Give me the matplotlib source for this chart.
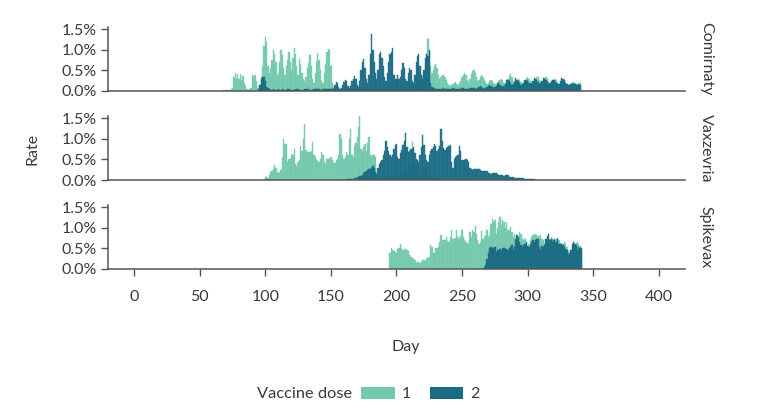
import matplotlib
matplotlib.use("Agg")
import matplotlib.pyplot as plt
import numpy as np
from matplotlib.patches import Patch
from matplotlib.ticker import FuncFormatter

plt.rcParams['font.family'] = ['Lato', 'DejaVu Sans']

# daily rates in hundredths of a percent, each series starts on the given day
vaccines = ["Comirnaty", "Vaxzevria", "Spikevax"]

comirnaty_d1_start = 68
comirnaty_d1 = [
    2, 2, 3, 3, 2, 3, 5,
    8, 35, 44, 30, 42, 30, 42,
    28, 36, 20, 12, 5, 3, 4,
    8, 38, 34, 40, 25, 8, 4,
    15, 35, 60, 110, 132, 120, 60,
    45, 55, 75, 100, 90, 70, 40,
    45, 70, 99, 88, 55, 40, 60,
    76, 95, 70, 50, 80, 106, 90,
    60, 40, 78, 65, 45, 30, 25,
    35, 55, 68, 87, 60, 30, 20,
    45, 70, 92, 75, 50, 25, 20,
    45, 65, 95, 103, 100, 60, 20,
    8, 6, 5, 6, 7, 5, 4,
    5, 6, 7, 6, 5, 4, 4,
    5, 6, 6, 7, 5, 4, 5,
    6, 7, 8, 7, 6, 5, 5,
    6, 8, 9, 8, 7, 6, 6,
    7, 9, 10, 9, 8, 6, 7,
    8, 10, 11, 10, 8, 7, 8,
    9, 11, 12, 11, 9, 8, 9,
    10, 12, 14, 12, 10, 9, 12,
    12, 15, 20, 25, 30, 35, 45,
    60, 90, 126, 95, 60, 45, 50,
    60, 67, 55, 40, 30, 35, 38,
    39, 35, 28, 20, 15, 12, 15,
    18, 20, 22, 18, 15, 20, 25,
    35, 40, 44, 38, 28, 22, 30,
    42, 48, 52, 45, 35, 25, 28,
    35, 39, 35, 28, 22, 18, 20,
    25, 27, 25, 20, 16, 14, 18,
    25, 28, 30, 26, 20, 16, 22,
    30, 36, 41, 35, 25, 20, 22,
    28, 30, 28, 22, 18, 16, 24,
    30, 33, 30, 25, 20, 18, 25,
    30, 35, 33, 28, 22, 20, 25,
    31, 33, 30, 24, 18, 18, 22,
    28, 30, 27, 22, 18, 16, 20,
    25, 26, 22, 18, 15, 14, 18,
    20, 22, 19, 17, 15, 18, 19,
]

comirnaty_d2_start = 95
comirnaty_d2 = [
    5, 15, 30, 35, 33, 25, 10,
    8, 5, 3, 3, 4, 3, 2,
    3, 4, 3, 3, 4, 2, 2,
    3, 4, 4, 3, 3, 2, 3,
    4, 5, 4, 3, 3, 2, 3,
    4, 5, 5, 4, 3, 3, 3,
    4, 5, 6, 5, 4, 3, 3,
    5, 6, 6, 5, 4, 4, 4,
    5, 8, 15, 23, 20, 10, 6,
    8, 15, 22, 28, 25, 12, 8,
    12, 25, 30, 36, 30, 15, 10,
    25, 50, 70, 79, 55, 30, 20,
    40, 90, 140, 100, 70, 45, 30,
    50, 91, 94, 80, 60, 35, 25,
    45, 70, 90, 95, 106, 40, 30,
    30, 40, 30, 35, 50, 68, 55,
    30, 25, 45, 55, 50, 25, 20,
    40, 70, 85, 91, 60, 40, 30,
    50, 80, 91, 85, 99, 20, 10,
    8, 7, 6, 5, 5, 4, 5,
    6, 7, 6, 5, 5, 4, 5,
    6, 7, 6, 5, 5, 4, 5,
    6, 7, 7, 6, 5, 5, 6,
    7, 8, 8, 7, 6, 6, 8,
    10, 12, 10, 8, 6, 8, 10,
    12, 15, 12, 10, 8, 10, 12,
    19, 20, 15, 12, 10, 12, 18,
    28, 28, 25, 20, 15, 18, 22,
    31, 28, 25, 20, 15, 18, 20,
    26, 28, 25, 20, 16, 20, 24,
    31, 30, 26, 22, 18, 20, 25,
    32, 30, 28, 22, 18, 20, 24,
    28, 26, 22, 20, 16, 18, 25,
    31, 30, 26, 20, 16, 15, 15,
    18, 20, 18, 16, 14, 15, 17,
    15,
]

vaxzevria_d1_start = 100
vaxzevria_d1 = [
    7, 8, 6, 12, 20, 22, 28,
    37, 30, 18, 20, 18, 24, 55,
    100, 88, 88, 44, 50, 52, 64,
    62, 76, 40, 35, 45, 48, 84,
    70, 100, 136, 72, 68, 68, 68,
    70, 92, 60, 56, 48, 46, 44,
    50, 68, 60, 45, 40, 52, 52,
    50, 56, 48, 44, 42, 48, 52,
    60, 112, 100, 60, 50, 56, 68,
    62, 100, 124, 60, 56, 84, 90,
    104, 130, 156, 76, 70, 80, 88,
    70, 90, 106, 60, 58, 61, 60,
    55, 15, 8, 6, 8, 10, 10,
    8, 8, 10, 10, 8, 8, 8,
    10, 10, 10, 8, 8, 10, 12,
    10, 12, 15, 14, 12, 15, 40,
    93, 75, 40, 30, 20, 15, 12,
    12, 10, 30, 25, 12, 10, 8,
    8, 6, 6, 5, 5, 4, 4,
]

vaxzevria_d2_start = 160
vaxzevria_d2 = [
    1, 1, 1, 2, 2, 3, 3,
    3, 4, 5, 7, 8, 9, 10,
    13, 16, 20, 23, 24, 27, 27,
    30, 35, 30, 20, 15, 30, 38,
    45, 48, 60, 70, 94, 80, 70,
    60, 56, 62, 76, 85, 88, 55,
    50, 65, 72, 85, 96, 115, 80,
    68, 70, 76, 76, 80, 65, 52,
    48, 44, 60, 80, 110, 85, 62,
    48, 45, 60, 70, 76, 80, 88,
    84, 70, 75, 84, 124, 95, 77,
    72, 77, 80, 84, 85, 45, 30,
    50, 56, 58, 60, 84, 70, 48,
    48, 48, 50, 48, 45, 30, 26,
    25, 27, 27, 27, 28, 27, 24,
    23, 22, 22, 23, 23, 18, 17,
    15, 17, 17, 17, 16, 15, 12,
    11, 11, 11, 10, 12, 12, 11,
    8, 7, 7, 7, 6, 6, 5,
    5, 5, 4, 4, 4, 3, 3,
    3, 3, 2, 2, 2, 2, 1,
]

spikevax_d1_start = 195
spikevax_d1 = [
    40, 50, 46, 44, 42, 40, 48,
    52, 62, 50, 46, 48, 48, 46,
    44, 34, 30, 28, 25, 22, 15,
    18, 17, 14, 18, 23, 22, 20,
    28, 26, 30, 58, 54, 40, 38,
    50, 52, 54, 66, 82, 70, 70,
    70, 78, 68, 66, 78, 94, 72,
    74, 76, 94, 78, 74, 80, 94,
    78, 70, 66, 62, 64, 90, 78,
    94, 90, 104, 86, 70, 62, 66,
    93, 74, 78, 82, 94, 78, 84,
    110, 123, 115, 120, 86, 100, 115,
    127, 107, 120, 115, 100, 115, 94,
    96, 102, 90, 78, 86, 70, 64,
    66, 90, 86, 72, 70, 74, 66,
    54, 62, 70, 78, 82, 86, 84,
    83, 80, 78, 82, 74, 70, 62,
    64, 66, 68, 72, 78, 74, 72,
    74, 74, 76, 70, 64, 62, 62,
    66, 60, 54, 42, 38, 45, 55,
    66, 62, 63, 66, 60, 56, 50,
]

spikevax_d2_start = 267
spikevax_d2 = [
    5, 10, 25, 38, 50, 54, 50,
    50, 54, 42, 46, 46, 48, 44,
    50, 50, 48, 48, 46, 50, 54,
    58, 46, 54, 72, 82, 78, 66,
    58, 54, 58, 62, 66, 56, 54,
    58, 66, 70, 66, 70, 72, 72,
    54, 46, 56, 54, 58, 74, 80,
    86, 70, 74, 66, 70, 66, 66,
    72, 62, 62, 60, 58, 54, 48,
    46, 34, 40, 46, 62, 66, 62,
    58, 46, 54, 50, 50,
]

series = {
    "Comirnaty": [(comirnaty_d1_start, comirnaty_d1), (comirnaty_d2_start, comirnaty_d2)],
    "Vaxzevria": [(vaxzevria_d1_start, vaxzevria_d1), (vaxzevria_d2_start, vaxzevria_d2)],
    "Spikevax": [(spikevax_d1_start, spikevax_d1), (spikevax_d2_start, spikevax_d2)],
}

dose_labels = ["1", "2"]
colors = ["#72c9ae", "#1a6b84"]
txt = "#3a3a3a"
axcol = "#555555"

W, H = 775, 417
fig = plt.figure(figsize=(W / 100, H / 100), dpi=100)

left_px, right_px = 108, 685
panels_px = [(27, 91), (116, 180), (205, 269)]

for i, name in enumerate(vaccines):
    top, bot = panels_px[i]
    ax = fig.add_axes([left_px / W, 1 - bot / H, (right_px - left_px) / W, (bot - top) / H])
    for j, (start, vals) in enumerate(series[name]):
        days = np.arange(start, start + len(vals))
        ax.bar(days, np.array(vals) / 100, width=1.0, color=colors[j],
               edgecolor=colors[j], linewidth=0.3, alpha=0.92)
    ax.set_xlim(-20, 420)
    ax.set_ylim(0, 1.56)
    ax.set_yticks([0, 0.5, 1.0, 1.5])
    ax.yaxis.set_major_formatter(FuncFormatter(lambda v, p: f"{v:.1f}%"))
    ax.set_xticks(range(0, 401, 50))
    for s in ["top", "right"]:
        ax.spines[s].set_visible(False)
    for s in ["left", "bottom"]:
        ax.spines[s].set_color(axcol)
        ax.spines[s].set_linewidth(1.1)
    ax.tick_params(axis="y", length=5, width=1, color=axcol, labelsize=11.5,
                   labelcolor=txt, pad=3)
    ax.tick_params(axis="x", length=5, width=1, color=axcol, labelsize=11.5,
                   labelcolor=txt, pad=10)
    if i < 2:
        ax.tick_params(axis="x", bottom=False, labelbottom=False)
    ax.text(1.036, 0.5, name, transform=ax.transAxes, rotation=-90,
            ha="center", va="center", fontsize=11.5, color=txt)

fig.text(33 / W, 1 - 149 / H, "Rate", rotation=90, ha="center", va="center",
         fontsize=11.5, color=txt)
fig.text(406 / W, 1 - 347 / H, "Day", ha="center", va="center",
         fontsize=11.5, color=txt)

fig.text(257 / W, 1 - 394 / H, "Vaccine dose", ha="left", va="center",
         fontsize=11.8, color=txt)
handles = [Patch(facecolor=c, edgecolor="none") for c in colors]
fig.legend(handles, dose_labels, loc="center left",
           bbox_to_anchor=(347 / W, 1 - 394 / H), ncol=2, frameon=False,
           fontsize=11.5, handlelength=2.1, handleheight=0.8,
           handletextpad=0.45, columnspacing=1.15, labelcolor=txt)

fig.savefig("out.png", dpi=100)
